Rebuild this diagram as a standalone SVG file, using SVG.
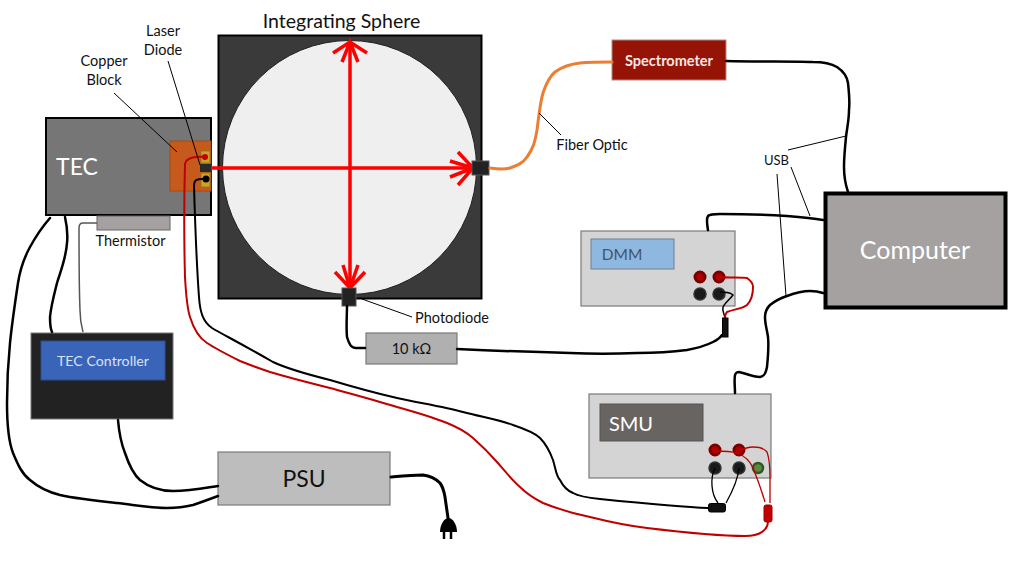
<svg xmlns="http://www.w3.org/2000/svg" width="1020" height="561" viewBox="0 0 1020 561">
<style>
text{font-family:Lato,"Noto Sans",sans-serif;text-anchor:middle}
.l{font-size:14.500px;fill:#111}
.w{fill:none;stroke:#000;stroke-width:3;stroke-linecap:round;stroke-linejoin:round}
.t{stroke-width:2.500}
.r{fill:none;stroke:#c00000;stroke-width:2;stroke-linecap:round}
.rt{fill:none;stroke:#c00000;stroke-width:1.300}
.k{fill:none;stroke:#000;stroke-width:1.300}
.lead{stroke:#000;stroke-width:1;fill:none}
.beam{stroke:#ff0000;stroke-width:3.500;fill:none;stroke-linecap:butt}
.box{stroke:#7a7a7a;stroke-width:1.200}
.jk{fill:#1a1a1a;stroke:#333;stroke-width:1.500}
.jr{fill:#b00000;stroke:#7a0000;stroke-width:3}
.port{fill:#222;stroke:#555;stroke-width:1}
</style>
<rect width="1020" height="561" fill="#fff"/>
<g id="sphere">
<rect x="218.500" y="35.500" width="263" height="263" fill="#3a3a3a" stroke="#000" stroke-width="2"/>
<circle cx="349.500" cy="167.500" r="127" fill="#efefef" stroke="#222" stroke-width="1"/>
<text x="341.500" y="28" font-size="19.500" fill="#111">Integrating Sphere</text>
</g>
<g id="tec">
<rect x="46" y="118" width="165" height="97" fill="#767676" stroke="#000" stroke-width="2"/>
<text x="77" y="175" font-size="23" fill="#fff">TEC</text>
</g>
<g id="thermistor">
<rect x="97" y="216" width="73" height="14" fill="#a5a1a0" stroke="#666" stroke-width="1"/>
<text x="130.500" y="246" class="l">Thermistor</text>
</g>
<g id="copper-block">
<rect x="170" y="141" width="41" height="50" fill="#c55a1c" stroke="#a84a14" stroke-width="1"/>
<rect x="201" y="151" width="9" height="12" fill="#c9a227" stroke="#8f7420" stroke-width="0.800"/>
<rect x="201" y="173" width="9" height="14" fill="#c9a227" stroke="#8f7420" stroke-width="0.800"/>
<rect x="200" y="164" width="11" height="8" fill="#2a2a2a"/>
<circle cx="205" cy="157" r="3" fill="#c00000"/>
<circle cx="206" cy="179" r="3.500" fill="#000"/>
</g>
<g id="tec-controller">
<rect x="31" y="333" width="142" height="86" fill="#222" stroke="#777" stroke-width="1"/>
<rect x="41" y="341" width="124" height="39" fill="#3a64b8" stroke="#2f4f8f" stroke-width="1"/>
<text x="103" y="366" font-size="14.200" fill="#d8e2f5">TEC Controller</text>
</g>
<g id="psu">
<rect x="218" y="452" width="172" height="53" fill="#bdbdbd" class="box"/>
<text x="304" y="487" font-size="23" fill="#111">PSU</text>
</g>
<g id="resistor">
<rect x="366" y="333" width="91" height="31" fill="#b0b0b0" class="box"/>
<text x="411.500" y="354" font-size="14.500" fill="#111">10 kΩ</text>
</g>
<g id="spectrometer">
<rect x="612" y="40" width="114" height="40" fill="#951405" stroke="#b08a85" stroke-width="1"/>
<text x="669" y="66" font-size="14.500" font-weight="700" fill="#f5e6e3">Spectrometer</text>
</g>
<g id="computer">
<rect x="825.500" y="193.500" width="180" height="114" fill="#a5a1a0" stroke="#000" stroke-width="4"/>
<text x="915" y="259" font-size="25" fill="#fff">Computer</text>
</g>
<g id="dmm">
<rect x="581" y="231" width="154" height="75" fill="#d4d4d4" class="box"/>
<rect x="591" y="239" width="83" height="30" fill="#8fb8e0" stroke="#6f7f90" stroke-width="1"/>
<text x="622" y="260" font-size="15.500" fill="#44546a">DMM</text>
<circle cx="700" cy="277" r="5" class="jr"/>
<circle cx="719" cy="277" r="5" class="jr"/>
<circle cx="700" cy="294" r="6" class="jk"/>
<circle cx="719" cy="294" r="6" class="jk"/>
</g>
<g id="smu">
<rect x="589" y="394" width="182" height="84" fill="#d4d4d4" class="box"/>
<rect x="600" y="404" width="103" height="37" fill="#686462" stroke="#555" stroke-width="1"/>
<text x="631" y="431" font-size="20" fill="#fff">SMU</text>
<circle cx="715" cy="450" r="5" class="jr"/>
<circle cx="739" cy="450" r="5" class="jr"/>
<circle cx="715" cy="468" r="6" class="jk"/>
<circle cx="739" cy="468" r="6" class="jk"/>
<circle cx="758" cy="468" r="5" style="fill:#5a8a3a;stroke:#33552a;stroke-width:2.500"/>
</g>
<g id="connectors">
<path class="beam" d="M211 168H472M350 43V288"/>
<path class="beam" d="M333 53L350 42L367 53M342 62L350 42L358 62"/>
<path class="beam" d="M458 152L473 168L458 185M450 161L473 168L450 177"/>
<path class="beam" d="M335 272L350 288L365 272M343 265L350 288L358 265"/>
<rect x="472" y="161" width="17" height="14" class="port"/>
<rect x="342" y="288" width="14" height="18" class="port"/>
<path d="M490 168C496 169 504 170 510 168C518 165 523 163 527 157C533 149 535 142 537 130C539 115 540 103 543 93C546 84 549 77 555 72C562 67 570 64 580 63C590 62 600 62 612 62" fill="none" stroke="#ed7d31" stroke-width="3" stroke-linecap="round"/>
<path class="w t" d="M726 61C760 62 790 61 813 62C824 62 832 64 837 67C843 71 847 76 848 83C849 92 850 101 849 110C849 120 847 128 846 137C845 147 844 157 844 167C844 177 846 186 848 192"/>
<path class="w t" d="M708 230C707 224 706 219 708 216C710 214 714 214 720 214C745 214 770 215 787 216C800 217 812 218 823 220"/>
<path class="w t" d="M735 393C735 387 734 380 735 375C736 372 737 372 739 372C745 373 752 377 760 377C765 376 766 372 767 367C768 357 769 347 768 337C767 330 765 324 765 317C765 312 767 308 770 305C775 301 781 298 787 296C795 293 803 291 810 291C815 291 820 292 823 293"/>
<path class="w t" d="M347 306C347 315 346 327 347 337C349 344 351 348 356 348H365"/>
<path class="w t" d="M457 349C480 350 530 352 570 353C590 354 615 354 637 353C655 353 672 352 687 350C698 348 707 345 713 342C717 340 720 338 722 335"/>
<path class="k" d="M725 318C724 313 722 311 723 307C725 303 730 299 733 295C730 292 726 292 720 292" style="stroke-width:1.500"/>
<path class="r" d="M720 277C730 278 740 277 747 278C750 280 753 283 753 287C753 295 751 301 747 305C742 309 734 309 727 312C725 314 725 316 725 318"/>
<rect x="722.500" y="318" width="5.500" height="19" fill="#111" stroke="#000"/>
<path class="r" d="M205 157C198 156 186 157 185 164C184 200 184 240 185 277C186 295 187 308 190 317C194 330 199 338 207 343C216 349 228 355 240 361C250 365 258 368 270 372C290 378 310 383 330 388C352 394 375 400 397 407C415 412 432 417 447 423C457 427 465 431 473 438C482 446 490 454 497 462C504 470 512 480 520 487C527 494 535 499 543 503C558 509 575 514 590 517C610 522 630 526 647 528C680 532 715 536 745 536C760 536 768 530 768 521"/>
<path class="w" style="stroke-width:2" d="M205 179C199 179 194 178 194 186C195 220 197 270 199 297C200 312 203 322 212 328C220 333 240 343 273 362C290 370 310 375 330 380C350 386 375 393 397 398C420 403 445 407 463 412C482 417 500 420 513 425C525 429 535 433 540 438C547 445 550 452 553 460C556 470 556 476 560 480C564 488 568 491 573 493C580 497 590 498 600 499C640 503 680 507 708 508"/>
<path class="k" d="M715 468C710 478 711 494 718 503"/>
<path class="k" d="M739 468C738 480 731 494 726 503"/>
<rect x="708.500" y="503.500" width="17" height="8.500" rx="2" fill="#111" stroke="#000"/>
<rect x="764" y="505" width="8" height="17" rx="2" fill="#c00000" stroke="#a00000"/>
<path class="rt" d="M715 451C723 451 730 451 737 453C745 456 750 461 753 468C758 480 762 492 765 502"/>
<path class="rt" d="M739 451C743 449 748 447 753 447C759 447 764 448 767 452C770 460 770 470 770 478C770 487 770 495 770 503"/>
<path class="w t" d="M50 218C43 226 36 236 30 247C24 258 20 270 18 283C15 303 12 323 10 343C8 363 7 383 7 403C7 423 8 440 13 453C18 465 22 474 30 480C38 487 48 492 60 495C78 499 98 501 117 503C135 505 150 508 167 508C177 508 185 507 193 505C202 502 210 499 218 496"/>
<path class="w t" d="M65 217C67 226 68 234 67 243C66 258 61 270 57 283C54 295 51 306 50 317C50 323 50 328 52 332"/>
<path class="k" d="M97 223H83C80 223 79 225 79 228C79 255 79 285 80 310C80 318 81 325 83 332" style="stroke:#555;stroke-width:1.500"/>
<path class="w t" d="M118 420C119 432 121 443 125 453C129 465 133 474 140 480C150 488 161 491 173 491C190 491 205 488 218 486"/>
<path class="w" d="M391 477C402 476 412 475 423 475C431 476 436 479 440 483C443 487 444 491 445 497C446 504 447 511 448 518"/>
<g id="plug-glyph">
<path d="M440 532C440 525 444 518 448.500 518C453 518 457 525 457 532Z" fill="#000"/>
<path d="M444 532V539M451 532V539" stroke="#000" stroke-width="2.500"/>
</g>
<path class="lead" d="M114 93L177 152"/>
<path class="lead" d="M168 61L200 165"/>
<path class="lead" d="M362 299L412 317"/>
<path class="lead" d="M539 113L561 135"/>
<path class="lead" d="M788 150L846 136M791 167L810 216M777 174L786 296"/>
</g>
<g id="labels">
<text x="163" y="36" class="l">Laser</text>
<text x="163" y="55" class="l">Diode</text>
<text x="104" y="66" class="l">Copper</text>
<text x="104" y="85" class="l">Block</text>
<text x="452" y="323" class="l">Photodiode</text>
<text x="592" y="150" class="l">Fiber Optic</text>
<text x="776.500" y="165" font-size="13" fill="#111">USB</text>
</g>
</svg>
